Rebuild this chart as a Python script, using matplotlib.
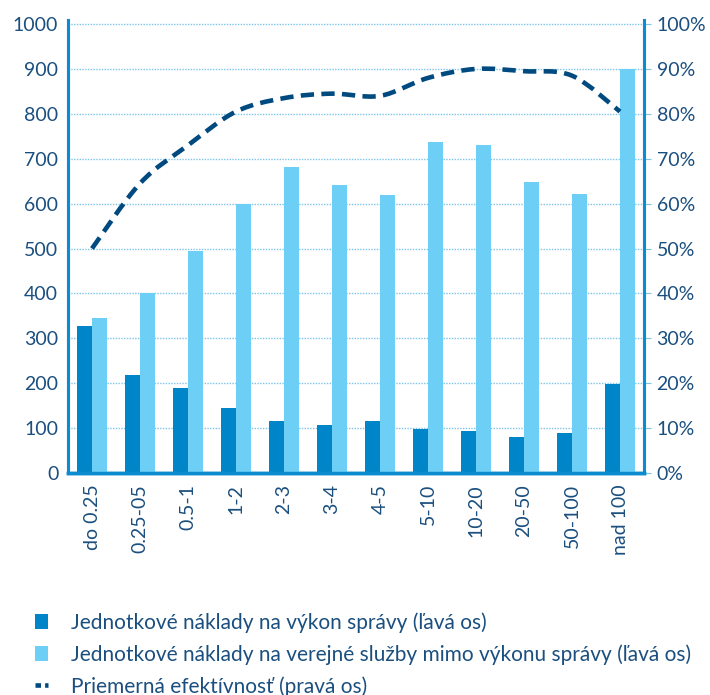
import matplotlib
matplotlib.use("Agg")
import matplotlib.pyplot as plt
import numpy as np
from matplotlib.path import Path
from matplotlib.patches import PathPatch, Patch
from matplotlib.lines import Line2D

categories = ["do 0.25", "0.25-05", "0.5-1", "1-2", "2-3", "3-4", "4-5",
              "5-10", "10-20", "20-50", "50-100", "nad 100"]
admin_costs = [327, 218, 189, 145, 115, 108, 115, 98, 93, 80, 89, 198]
public_costs = [345, 400, 495, 600, 682, 642, 620, 737, 730, 648, 622, 900]
efficiency = [50, 64.5, 73, 80.5, 83.5, 84.5, 84, 88, 90, 89.5, 88.5, 80.5]
left_ticks = list(range(0, 1001, 100))
right_ticks = list(range(0, 101, 10))

DARK = "#0085C8"
LIGHT = "#6DCFF6"
LINE = "#004A80"
TEXT = "#1B4F7F"
AXIS = "#0B8BD0"

plt.rcParams['font.family'] = ['Lato', 'DejaVu Sans']

fig = plt.figure(figsize=(7.1, 6.95), dpi=100)
ax = fig.add_axes([68/710, 1-473/695, (644-68)/710, (473-20)/695])
ax2 = ax.twinx()

x = np.arange(len(categories))
w = 0.31
ax.bar(x - w/2, admin_costs, w, color=DARK, zorder=3)
ax.bar(x + w/2, public_costs, w, color=LIGHT, zorder=3)

ax.set_xlim(-0.5, len(categories) - 0.5)
ax.set_ylim(0, 1009)
ax.set_yticks(left_ticks)
ax.grid(axis='y', color="#7CC4EA", linestyle=(0, (1, 1)), linewidth=1.0, zorder=0)
ax.set_xticks(x)
ax.set_xticklabels(categories, rotation=90, fontsize=14, color=TEXT)
ax.tick_params(axis='x', length=0, pad=8)
ax.tick_params(axis='y', length=0, labelsize=14, labelcolor=TEXT, pad=7)

for a in (ax, ax2):
    a.spines['top'].set_visible(False)
    a.spines['left'].set_color(AXIS)
    a.spines['right'].set_color(AXIS)
    a.spines['bottom'].set_color(AXIS)
    a.spines['left'].set_linewidth(2.2)
    a.spines['right'].set_linewidth(2.2)
    a.spines['bottom'].set_linewidth(2.5)

ax2.set_ylim(0, 100.9)
ax2.set_yticks(right_ticks)
ax2.set_yticklabels([f"{t}%" for t in right_ticks])
ax2.tick_params(axis='y', length=5, color="#7CC4EA", labelsize=14, labelcolor=TEXT, pad=4)

# smoothed line via Catmull-Rom -> cubic Bezier path (control points from data)
xs = list(x.astype(float))
ys = list(efficiency)
n = len(xs)
verts = [(xs[0], ys[0])]
codes = [Path.MOVETO]
for i in range(n - 1):
    p0 = (xs[max(i-1, 0)], ys[max(i-1, 0)])
    p1 = (xs[i], ys[i])
    p2 = (xs[i+1], ys[i+1])
    p3 = (xs[min(i+2, n-1)], ys[min(i+2, n-1)])
    c1 = (p1[0] + (p2[0]-p0[0])/6, p1[1] + (p2[1]-p0[1])/6)
    c2 = (p2[0] - (p3[0]-p1[0])/6, p2[1] - (p3[1]-p1[1])/6)
    verts += [c1, c2, p2]
    codes += [Path.CURVE4]*3
path = Path(verts, codes)
ax2.add_patch(PathPatch(path, facecolor='none', edgecolor=LINE, linewidth=3.3,
                        linestyle=(0, (2.9, 1.6)), zorder=5, capstyle='butt'))

handles = [Patch(facecolor=DARK, edgecolor='none'),
           Patch(facecolor=LIGHT, edgecolor='none'),
           Line2D([0], [0], color=LINE, linewidth=3.3, linestyle=(0, (1.2, 0.9)))]
labels = ["Jednotkové náklady na výkon správy (ľavá os)",
          "Jednotkové náklady na verejné služby mimo výkonu správy (ľavá os)",
          "Priemerná efektívnosť (pravá os)"]
leg = fig.legend(handles, labels, loc='upper left', bbox_to_anchor=(35/710, 1-612/695),
                 frameon=False, fontsize=15, labelcolor=TEXT, handlelength=0.6,
                 handleheight=0.75, handletextpad=1.15, labelspacing=0.55,
                 borderaxespad=0, borderpad=0)

fig.savefig("out.png", dpi=100)
